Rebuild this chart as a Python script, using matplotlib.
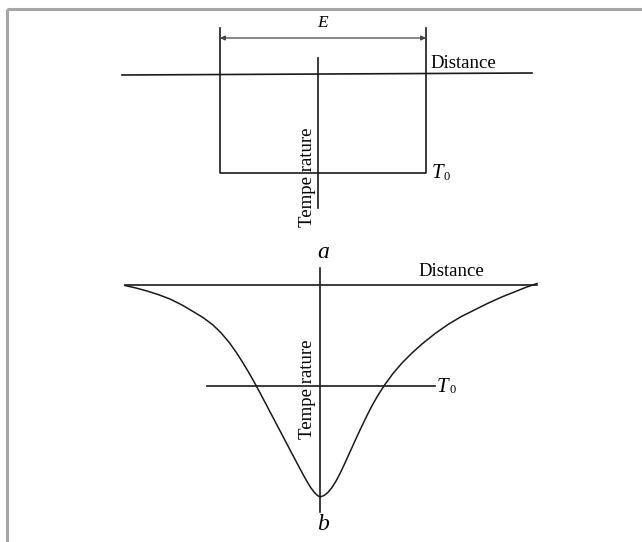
import numpy as np
import matplotlib.pyplot as plt

plt.rcParams['font.family'] = ['Liberation Serif', 'DejaVu Serif']

# panel a: rectangular temperature profile of width E
a_left, a_right = 220, 426
a_top, a_bottom = 28, 173
a_dist_x = [122, 532]
a_dist_y = [75, 73]
a_temp_x = 318
a_temp_y = [58, 208]
e_arrow_y = 38

# panel b: smooth temperature dip around the source
b_dist_x = [125, 537]
b_dist_y = 285
b_temp_x = 320
b_temp_y = [268, 512]
b_t0_x = [207, 435]
b_t0_y = 386
curve_x = [125, 136, 147, 158, 170, 182, 193, 203, 213, 221, 229, 236, 242, 248, 254, 260,
           268, 276, 284, 292, 299, 304, 308, 311, 314, 317, 320,
           324, 328, 332, 336, 340, 344, 348, 352, 357, 362, 367, 372, 378, 385, 393, 402,
           412, 422, 435, 448, 461, 475, 488, 502, 515, 526, 537]
curve_y = [285.5, 288, 291, 294.5, 299, 305, 311.5, 317.5, 325, 332.8, 342.2, 352, 361.3, 371.2, 381.7, 392.8,
           408, 423.2, 438.4, 453.6, 466.9, 476.2, 483.2, 488, 492, 495.1, 497,
           495.5, 492.3, 487.5, 481.1, 473.5, 465.1, 456.3, 447.5, 436.5, 425.8, 415.5, 405.7, 395.2, 384.4, 373.5, 363,
           353, 344, 333.6, 324.5, 316.7, 309.7, 303.2, 296.9, 291.7, 287.3, 283.5]

fig = plt.figure(figsize=(6.42, 5.42), dpi=100)
ax = fig.add_axes([0, 0, 1, 1])
ax.set_xlim(0, 642)
ax.set_ylim(542, 0)
ax.axis('off')

# frame (top and left edges)
ax.plot([7, 642], [9, 9], color='#a6a6a6', lw=2.2, solid_capstyle='butt')
ax.plot([7, 7], [9, 542], color='#a6a6a6', lw=2.2, solid_capstyle='butt')

lc = '#1a1a1a'
lw = 1.2


def t0_label(x, y):
    ax.text(x, y, 'T', style='italic', fontsize=15, ha='left', va='center')
    ax.text(x + 12, y + 3, '0', fontsize=9, ha='left', va='center')


# --- panel a ---
ax.plot(a_dist_x, a_dist_y, color=lc, lw=lw)
ax.plot([a_left, a_left, a_right, a_right], [a_top, a_bottom, a_bottom, a_top], color=lc, lw=lw)
ax.plot([a_temp_x, a_temp_x], a_temp_y, color=lc, lw=lw)
ax.annotate('', xy=(a_left, e_arrow_y), xytext=(a_right, e_arrow_y),
            arrowprops=dict(arrowstyle='<|-|>', color='#444444', lw=0.9,
                            mutation_scale=7, shrinkA=0, shrinkB=0))
ax.text((a_left + a_right) / 2, 23, 'E', style='italic', fontsize=12.5, ha='center', va='center')
ax.text(430, 64, 'Distance', fontsize=13.5, ha='left', va='center')
t0_label(432, 174)
ax.text(308, 177, 'Tempe rature', fontsize=13.5, rotation=90, ha='center', va='center')
ax.text(323, 253, 'a', style='italic', fontsize=17, ha='center', va='center')

# --- panel b ---
ax.plot(b_dist_x, [b_dist_y, b_dist_y], color=lc, lw=lw)
ax.plot([b_temp_x, b_temp_x], b_temp_y, color=lc, lw=lw)
ax.plot(b_t0_x, [b_t0_y, b_t0_y], color=lc, lw=lw)
ax.plot(curve_x, curve_y, color=lc, lw=1.1, solid_joinstyle='round')
ax.text(418, 272, 'Distance', fontsize=13.5, ha='left', va='center')
t0_label(437, 387)
ax.text(308, 389, 'Tempe rature', fontsize=13.5, rotation=90, ha='center', va='center')
ax.text(323, 524, 'b', style='italic', fontsize=17, ha='center', va='center')

fig.savefig('out.png', dpi=100, facecolor='white')
